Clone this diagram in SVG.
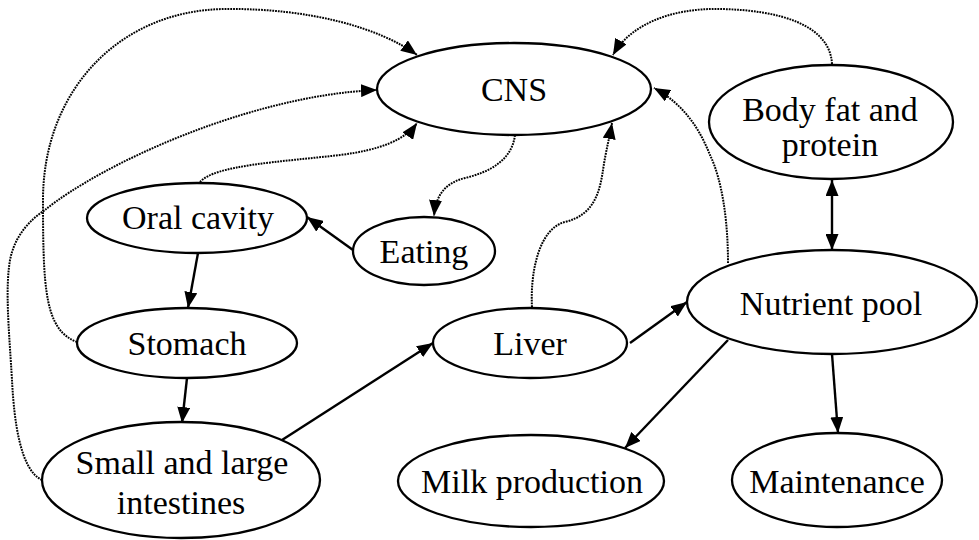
<svg xmlns="http://www.w3.org/2000/svg" width="979" height="540" viewBox="0 0 979 540">
<defs>
<marker id="ah" viewBox="0 0 16 13" refX="16" refY="6.5" markerWidth="16" markerHeight="13" markerUnits="userSpaceOnUse" orient="auto-start-reverse">
<path d="M0,0 L16,6.5 L0,13 Z" fill="#000"/>
</marker>
</defs>
<style>
.node ellipse{fill:#fff;stroke:#000;stroke-width:2.3}
.node text{font-family:"Liberation Serif","Times New Roman",serif;font-size:34px;fill:#000;text-anchor:middle}
.solid{fill:none;stroke:#000;stroke-width:2.4}
.dot{fill:none;stroke:#000;stroke-width:2;stroke-dasharray:1.8 1}
</style>
<rect width="979" height="540" fill="#fff"/>
<g id="connectors">
<path class="dot" d="M77,342 C45,330 43,290 43,200 C43,90 120,10 225,9 C310,8 380,28 417,55" marker-end="url(#ah)"/>
<path class="dot" d="M42,480 C20,470 14,420 12,380 C9,330 5,290 10,260 C15,235 30,220 45,210 C100,165 250,95 377,90" marker-end="url(#ah)"/>
<path class="dot" d="M200,182 C215,165 280,162 340,155 C380,150 405,140 417,123" marker-end="url(#ah)"/>
<path class="dot" d="M515,135 C512,160 490,172 465,178 C445,183 436,195 434,216" marker-end="url(#ah)"/>
<path class="dot" d="M532,307 C530,270 540,228 565,222 C595,215 600,190 603,170 C606,150 609,140 612,123" marker-end="url(#ah)"/>
<path class="dot" d="M728,263 C728,220 722,180 710,155 C700,130 685,105 654,88" marker-end="url(#ah)"/>
<path class="dot" d="M832,64 C830,25 780,10 720,9 C670,8 630,25 613,55" marker-end="url(#ah)"/>
<line class="solid" x1="353" y1="250" x2="307" y2="217" marker-end="url(#ah)"/>
<line class="solid" x1="198" y1="253" x2="188" y2="308" marker-end="url(#ah)"/>
<line class="solid" x1="187" y1="378" x2="182" y2="423" marker-end="url(#ah)"/>
<line class="solid" x1="282" y1="440" x2="433" y2="343" marker-end="url(#ah)"/>
<line class="solid" x1="630" y1="343" x2="687" y2="302" marker-end="url(#ah)"/>
<line class="solid" x1="832" y1="180" x2="832" y2="250" marker-start="url(#ah)" marker-end="url(#ah)"/>
<line class="solid" x1="728" y1="340" x2="625" y2="448" marker-end="url(#ah)"/>
<line class="solid" x1="832" y1="354" x2="838" y2="433" marker-end="url(#ah)"/>
</g>
<g id="cns" class="node"><ellipse cx="514" cy="89" rx="137" ry="46"/><text x="514" y="101">CNS</text></g>
<g id="bodyfat" class="node"><ellipse cx="831" cy="122" rx="122" ry="57"/><text x="830" y="121">Body fat and</text><text x="830" y="156">protein</text></g>
<g id="oral" class="node"><ellipse cx="197" cy="218" rx="110" ry="35"/><text x="198" y="229">Oral cavity</text></g>
<g id="eating" class="node"><ellipse cx="424" cy="251" rx="71" ry="34"/><text x="424" y="263">Eating</text></g>
<g id="stomach" class="node"><ellipse cx="187" cy="343" rx="110" ry="35"/><text x="187" y="355">Stomach</text></g>
<g id="liver" class="node"><ellipse cx="530" cy="343" rx="97" ry="35"/><text x="530" y="355">Liver</text></g>
<g id="nutrient" class="node"><ellipse cx="832" cy="302" rx="145" ry="52"/><text x="831" y="315">Nutrient pool</text></g>
<g id="intestines" class="node"><ellipse cx="181" cy="480" rx="139" ry="58"/><text x="182" y="474">Small and large</text><text x="181" y="514">intestines</text></g>
<g id="milk" class="node"><ellipse cx="531" cy="481" rx="133" ry="46"/><text x="532" y="493">Milk production</text></g>
<g id="maintenance" class="node"><ellipse cx="837" cy="480" rx="105" ry="47"/><text x="837" y="493">Maintenance</text></g>
</svg>
